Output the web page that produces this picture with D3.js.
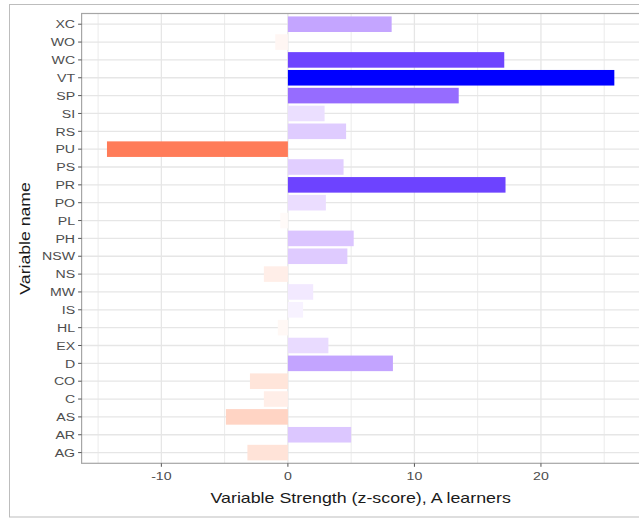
<!DOCTYPE html>
<html>
<head>
<meta charset="utf-8">
<script src="https://cdn.jsdelivr.net/npm/d3@7"></script>
<style>
  html, body { margin: 0; padding: 0; background: #fff; }
  svg text { font-family: "Liberation Sans", Arial, Helvetica, sans-serif; }
</style>
</head>
<body>
<svg id="chart" width="639" height="519"></svg>
<script>
// Categories (top to bottom)
const categories = ["XC","WO","WC","VT","SP","SI","RS","PU","PS","PR","PO","PL","PH","NSW","NS","MW","IS","HL","EX","D","CO","C","AS","AR","AG"];
// Variable strength (z-score)
const values = [8.2,-1.0,17.1,25.8,13.5,2.9,4.6,-14.3,4.4,17.2,3.0,-0.6,5.2,4.7,-1.9,2.0,1.2,-0.8,3.2,8.3,-3.0,-1.9,-4.9,5.0,-3.2];
const xTicks = [-10, 0, 10, 20];
const xMinorTicks = [-15, -5, 5, 15, 25];
const xTitle = "Variable Strength (z-score), A learners";
const yTitle = "Variable name";

const data = categories.map((c, i) => ({ name: c, value: values[i] }));

const svg = d3.select("#chart");
const panel = { left: 81.6, top: 13.5, right: 639.7, bottom: 463.3 };
const stretch = 1.21; // glyph width of the reference text

// outer frame
svg.append("rect").attr("x", 9.5).attr("y", 4.5).attr("width", 640).attr("height", 512.5)
  .attr("fill", "none").attr("stroke", "#bdbdbd").attr("stroke-width", 1);

const vmin = d3.min(values), vmax = d3.max(values);
const pad = (vmax - vmin) * 0.05;
const x = d3.scaleLinear().domain([vmin - pad, vmax + pad]).range([panel.left, panel.right]);
const y = d3.scaleBand().domain(categories).range([panel.top, panel.bottom]).paddingInner(0.1).paddingOuter(0.55);
const yc = d3.scalePoint().domain(categories).range([panel.top, panel.bottom]).padding(0.6);

const color = d3.scaleDiverging()
  .domain([-21.5, 0, 21.5])
  .interpolator(d3.piecewise(d3.interpolateLab, ["#ff0000", "#ffffff", "#0000ff"]))
  .clamp(true);

const g = svg.append("g");
g.append("rect").attr("x", panel.left).attr("y", panel.top)
  .attr("width", panel.right - panel.left).attr("height", panel.bottom - panel.top).attr("fill", "#fff");

g.selectAll(".vminor").data(xMinorTicks).join("line")
  .attr("x1", d => x(d)).attr("x2", d => x(d))
  .attr("y1", panel.top).attr("y2", panel.bottom)
  .attr("stroke", "#ebebeb").attr("stroke-width", 1);
g.selectAll(".vmajor").data(xTicks).join("line")
  .attr("x1", d => x(d)).attr("x2", d => x(d))
  .attr("y1", panel.top).attr("y2", panel.bottom)
  .attr("stroke", "#e6e6e6").attr("stroke-width", 1.3);
g.selectAll(".hmajor").data(categories).join("line")
  .attr("x1", panel.left).attr("x2", panel.right)
  .attr("y1", d => yc(d)).attr("y2", d => yc(d))
  .attr("stroke", "#e6e6e6").attr("stroke-width", 1.3);

g.selectAll(".bar").data(data).join("rect")
  .attr("x", d => x(Math.min(0, d.value)))
  .attr("width", d => Math.abs(x(d.value) - x(0)))
  .attr("y", d => yc(d.name) - y.bandwidth() / 2)
  .attr("height", y.bandwidth())
  .attr("fill", d => color(d.value));

g.append("rect").attr("x", panel.left).attr("y", panel.top)
  .attr("width", panel.right - panel.left).attr("height", panel.bottom - panel.top)
  .attr("fill", "none").attr("stroke", "#a6a6a6").attr("stroke-width", 1.2);

// y axis
const yAxis = g.append("g");
yAxis.selectAll("line").data(categories).join("line")
  .attr("x1", panel.left - 3.5).attr("x2", panel.left)
  .attr("y1", d => yc(d)).attr("y2", d => yc(d))
  .attr("stroke", "#555").attr("stroke-width", 1);
yAxis.selectAll("text").data(categories).join("text")
  .attr("transform", d => `translate(${panel.left - 6.5},${yc(d)}) scale(${stretch},1)`)
  .attr("dy", "0.36em").attr("text-anchor", "end")
  .attr("font-size", 11.7).attr("fill", "#4d4d4d")
  .text(d => d);

// x axis
const xAxis = g.append("g");
xAxis.selectAll("line").data(xTicks).join("line")
  .attr("x1", d => x(d)).attr("x2", d => x(d))
  .attr("y1", panel.bottom).attr("y2", panel.bottom + 3.5)
  .attr("stroke", "#555").attr("stroke-width", 1);
xAxis.selectAll("text").data(xTicks).join("text")
  .attr("transform", d => `translate(${x(d)},${panel.bottom + 16.5}) scale(${stretch},1)`)
  .attr("text-anchor", "middle")
  .attr("font-size", 11.7).attr("fill", "#4d4d4d")
  .text(d => d < 0 ? "-" + Math.abs(d) : d);

// titles
svg.append("text")
  .attr("transform", `translate(${(panel.left + panel.right) / 2},503) scale(1.22,1)`)
  .attr("text-anchor", "middle").attr("font-size", 14.6).attr("fill", "#1a1a1a")
  .text(xTitle);
svg.append("text")
  .attr("transform", `translate(30, ${(panel.top + panel.bottom) / 2}) rotate(-90) scale(1.21,1)`)
  .attr("text-anchor", "middle").attr("font-size", 14.6).attr("fill", "#1a1a1a")
  .text(yTitle);
</script>
</body>
</html>
